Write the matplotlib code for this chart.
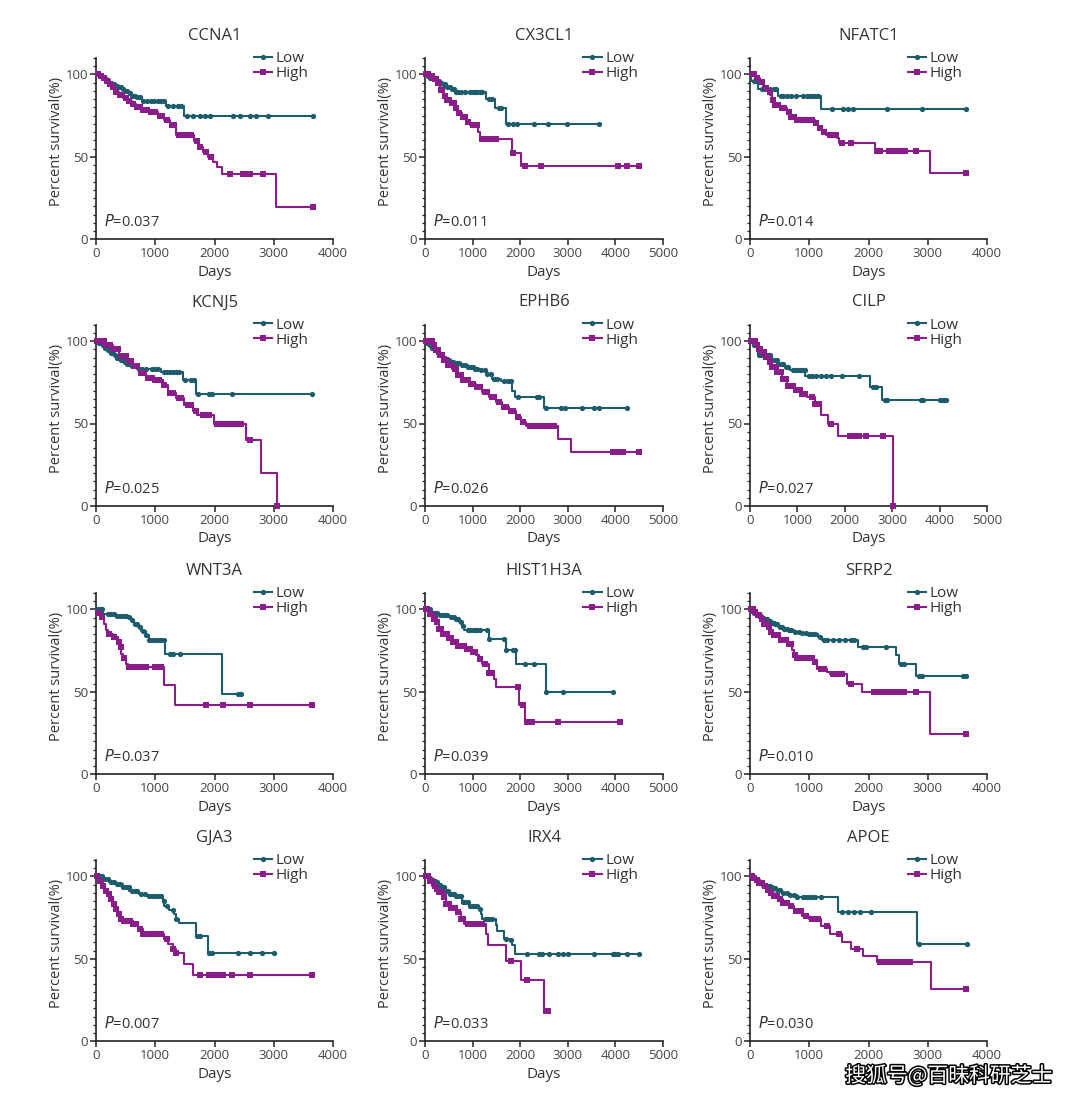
import numpy as np
import matplotlib
matplotlib.use("Agg")
import matplotlib.pyplot as plt
import matplotlib.patheffects as pe
from matplotlib.ticker import MultipleLocator
from matplotlib.lines import Line2D

plt.rcParams['font.family'] = ['Open Sans', 'DejaVu Sans']

genes = ['CCNA1', 'CX3CL1', 'NFATC1', 'KCNJ5', 'EPHB6', 'CILP',
         'WNT3A', 'HIST1H3A', 'SFRP2', 'GJA3', 'IRX4', 'APOE']
p_values = ['0.037', '0.011', '0.014', '0.025', '0.026', '0.027',
            '0.037', '0.039', '0.010', '0.007', '0.033', '0.030']
x_max = [4000, 5000, 4000, 4000, 5000, 5000, 4000, 5000, 4000, 4000, 5000, 4000]

# t = event days, s = survival (%) after event, c = censored days
ccna1_low_t = [60, 120, 170, 220, 270, 320, 380, 430, 480, 540, 600, 680, 780, 1180, 1480]
ccna1_low_s = [99, 98, 96.5, 95, 94, 93, 92, 91, 90, 88.5, 87, 86, 84, 81, 75]
ccna1_low_c = [20, 60, 90, 130, 160, 200, 240, 280, 310, 350, 390, 420, 460, 500, 530, 570, 610, 650, 700, 740,
               800, 860, 920, 980, 1040, 1100, 1150, 1220, 1300, 1380, 1440, 1528, 1640, 1753, 1837, 1921, 2315,
               2427, 2596, 2697, 2904, 3663]
ccna1_high_t = [50, 110, 160, 210, 260, 320, 380, 450, 520, 600, 680, 760, 900, 1050, 1150, 1250, 1350, 1660,
                1720, 1800, 1890, 1980, 2040, 2120, 3045]
ccna1_high_s = [99, 97.5, 96, 94, 92, 89.5, 87.5, 85.5, 84, 82, 80, 78.5, 77, 75, 72.5, 69.5, 63, 59.5, 56, 53,
                50, 47, 44, 39.5, 19.8]
ccna1_high_c = [30, 80, 130, 180, 230, 280, 340, 400, 440, 500, 560, 620, 700, 740, 800, 860, 930, 1000, 1080,
                1120, 1200, 1280, 1320, 1400, 1440, 1500, 1600, 1700, 1760, 1850, 1940, 2258, 2483, 2540, 2596,
                2821, 3663]

cx3cl1_low_t = [40, 100, 170, 240, 310, 380, 460, 540, 620, 1280, 1470, 1700]
cx3cl1_low_s = [99, 98, 97, 96, 95, 94, 92.5, 91, 89.5, 85, 79.4, 70]
cx3cl1_low_c = [20, 60, 100, 140, 180, 220, 260, 300, 340, 380, 420, 470, 520, 560, 600, 650, 700, 760, 850, 950,
                1000, 1050, 1100, 1150, 1200, 1350, 1400, 1550, 1600, 1750, 1853, 1923, 2294, 2587, 2986, 3657]
cx3cl1_high_t = [80, 175, 245, 315, 385, 440, 525, 630, 680, 770, 875, 945, 1120, 1155, 1820, 2015]
cx3cl1_high_s = [99, 97, 94.5, 90.5, 87, 84.4, 82.4, 79.4, 76.4, 74, 71.3, 69.3, 65.3, 61, 52.5, 44.6]
cx3cl1_high_c = [30, 70, 120, 150, 200, 230, 280, 330, 360, 410, 470, 500, 560, 600, 660, 720, 800, 850, 900,
                 1000, 1050, 1100, 1200, 1300, 1380, 1450, 1500, 1850, 2100, 2430, 4050, 4250, 4497]

nfatc1_low_t = [25, 140, 480, 1200]
nfatc1_low_s = [96, 91, 87, 79]
nfatc1_low_c = [10, 60, 100, 200, 260, 330, 400, 440, 520, 560, 620, 700, 780, 900, 960, 1000, 1050, 1100, 1150,
                1376, 1573, 1657, 1742, 2315, 2904, 3652]
nfatc1_high_t = [80, 170, 225, 310, 340, 365, 395, 505, 620, 675, 760, 1095, 1150, 1210, 1290, 1460, 1505, 2105, 3035]
nfatc1_high_s = [97.5, 95.5, 91.5, 89.5, 87.5, 84.4, 81.4, 79.4, 77.4, 74.3, 72.3, 70.3, 67.3, 65.3, 63.2, 61.2,
                 58.2, 53.5, 40]
nfatc1_high_c = [30, 60, 120, 200, 270, 330, 380, 420, 450, 480, 540, 580, 650, 700, 740, 800, 850, 900, 950, 1000,
                 1050, 1120, 1180, 1250, 1350, 1450, 1550, 1700, 2150, 2200, 2350, 2420, 2480, 2550, 2620, 2800, 3652]

kcnj5_low_t = [40, 90, 140, 190, 240, 290, 340, 400, 460, 520, 600, 700, 1095, 1472, 1685]
kcnj5_low_s = [99, 97.5, 96, 94.5, 93, 91.5, 90, 88.5, 87, 86, 85, 83.2, 81, 76.3, 68]
kcnj5_low_c = [20, 50, 80, 110, 150, 180, 210, 250, 280, 320, 350, 380, 420, 450, 490, 530, 560, 600, 640, 680, 720,
               780, 850, 950, 1000, 1050, 1150, 1200, 1250, 1300, 1350, 1400, 1500, 1600, 1650, 1720, 1900, 1950,
               2300, 3650]
kcnj5_high_t = [170, 280, 393, 505, 618, 730, 843, 955, 1124, 1208, 1348, 1489, 1629, 1713, 1994, 2528, 2781, 3062]
kcnj5_high_s = [97.4, 95, 91, 87.8, 84.8, 80.7, 77.7, 76.3, 73.6, 68.6, 65.5, 61.5, 57.4, 55.4, 49.7, 39.8, 20.3, 0]
kcnj5_high_c = [20, 60, 100, 130, 170, 200, 240, 280, 330, 370, 420, 460, 500, 550, 590, 650, 700, 760, 800, 880,
                950, 1000, 1060, 1150, 1250, 1300, 1400, 1440, 1550, 1600, 1680, 1800, 1900, 2050, 2150, 2250, 2350,
                2450, 2600, 3062]

ephb6_low_t = [40, 90, 140, 190, 250, 310, 370, 440, 520, 620, 750, 900, 1050, 1150, 1300, 1415, 1590, 1835, 1891, 2500]
ephb6_low_s = [99, 97.5, 96, 94.5, 93, 91.5, 90, 88.5, 87.2, 86.5, 85.5, 84.2, 83, 82.2, 79.7, 77, 75.7, 70, 66, 59.4]
ephb6_low_c = [20, 50, 80, 110, 140, 170, 200, 240, 270, 300, 340, 370, 410, 450, 500, 540, 580, 620, 680, 720, 780,
               840, 900, 960, 1000, 1050, 1100, 1180, 1250, 1300, 1380, 1450, 1520, 1650, 1750, 1800, 1950, 2350,
               2400, 2550, 2850, 2950, 3300, 3550, 3650, 4250]
ephb6_high_t = [154, 224, 294, 364, 469, 574, 679, 784, 924, 1064, 1205, 1345, 1485, 1625, 1765, 1905, 2010, 2115,
                2801, 3060]
ephb6_high_s = [97.4, 94.3, 91.3, 88.2, 85.2, 83.2, 79.1, 76.1, 74, 72, 69, 66, 62.9, 59.8, 57.8, 54.2, 50.7, 48.7,
                40.6, 32.9]
ephb6_high_c = [30, 70, 100, 150, 190, 230, 280, 320, 360, 400, 440, 480, 520, 560, 620, 660, 700, 750, 800, 850,
                900, 960, 1000, 1100, 1150, 1250, 1300, 1400, 1450, 1550, 1650, 1700, 1800, 1850, 1950, 2050, 2200,
                2300, 2400, 2500, 2600, 2700, 3950, 4000, 4050, 4100, 4150, 4500]

cilp_low_t = [70, 140, 176, 456, 562, 737, 843, 1159, 2528, 2795]
cilp_low_s = [97.4, 94.3, 91.3, 88.2, 86.2, 84.2, 82.2, 78.5, 72, 64]
cilp_low_c = [20, 50, 90, 120, 160, 200, 240, 280, 320, 360, 400, 430, 470, 520, 560, 600, 650, 700, 760, 800, 900,
              950, 1000, 1050, 1100, 1150, 1250, 1300, 1400, 1500, 1600, 1700, 1950, 2300, 2600, 2650, 2850, 2900,
              3600, 3650, 4000, 4050, 4100, 4143]
cilp_high_t = [105, 176, 246, 316, 386, 456, 562, 667, 772, 948, 1088, 1194, 1369, 1496, 1650, 1861, 3019]
cilp_high_s = [97.4, 95.3, 93.3, 90.3, 87.2, 84.2, 81.1, 77.1, 73, 70.4, 68, 65.9, 61.9, 55.4, 49.7, 42.2, 0]
cilp_high_c = [30, 60, 100, 140, 180, 220, 260, 300, 340, 380, 420, 460, 500, 540, 580, 620, 660, 700, 760, 800,
               850, 900, 960, 1000, 1050, 1100, 1150, 1300, 1380, 1450, 1700, 2100, 2150, 2200, 2250, 2300, 2450,
               2800, 3019]

wnt3a_low_t = [112, 309, 506, 590, 646, 702, 758, 843, 899, 1168, 2135]
wnt3a_low_s = [97.4, 96, 95.4, 93.3, 91.3, 89.3, 86.7, 84.3, 81.3, 72.8, 48.4]
wnt3a_low_c = [20, 60, 100, 200, 250, 300, 350, 400, 450, 500, 550, 600, 650, 700, 750, 800, 850, 900, 950, 1000,
               1050, 1100, 1150, 1250, 1300, 1420, 2400, 2444]
wnt3a_high_t = [28, 84, 140, 169, 197, 281, 365, 393, 421, 449, 506, 534, 1152, 1337]
wnt3a_high_s = [98, 95.4, 91.3, 87.3, 85.3, 83.3, 80.2, 77.2, 73.2, 70.2, 67.1, 65.1, 54, 42.3]
wnt3a_high_c = [30, 100, 220, 300, 380, 420, 480, 560, 600, 650, 700, 750, 800, 850, 1000, 1050, 1100, 1850, 2150,
                2600, 3650]

hist1h3a_low_t = [119, 294, 504, 609, 714, 770, 819, 1345, 1695, 1905, 2535]
hist1h3a_low_s = [98, 96.8, 95.4, 94, 92.3, 89.9, 87.3, 82.3, 75.2, 67.1, 50]
hist1h3a_low_c = [20, 60, 100, 150, 200, 250, 320, 380, 420, 470, 550, 600, 650, 700, 750, 800, 900, 950, 1000,
                  1050, 1100, 1150, 1300, 1350, 1650, 1700, 1850, 1900, 2100, 2300, 2550, 2900, 3950]
hist1h3a_high_t = [84, 154, 224, 294, 364, 469, 574, 679, 854, 994, 1064, 1134, 1205, 1345, 1450, 1485, 1975, 2101]
hist1h3a_high_s = [97.4, 94.4, 92.3, 88.3, 85.3, 82.7, 80.2, 77.8, 76.2, 74.2, 72.2, 69.8, 67.1, 61.1, 57.7, 53,
                   42.3, 31.9]
hist1h3a_high_c = [20, 50, 100, 140, 180, 220, 260, 300, 340, 380, 420, 460, 500, 540, 580, 620, 660, 700, 760,
                   820, 880, 940, 1000, 1050, 1150, 1250, 1350, 1400, 1950, 2050, 2150, 2250, 2800, 4100]

sfrp2_low_t = [30, 70, 110, 150, 200, 250, 300, 360, 420, 480, 560, 650, 750, 850, 1000, 1152, 1208, 1826, 2472,
               2517, 2809]
sfrp2_low_s = [99, 98, 97, 96, 95, 94, 93, 92, 91, 89.5, 88, 87.2, 86.5, 85.9, 85, 83, 81.5, 77, 72.2, 67.1, 59.7]
sfrp2_low_c = [10, 40, 70, 100, 130, 160, 190, 220, 250, 280, 310, 340, 370, 400, 430, 460, 500, 540, 580, 620, 660,
               700, 760, 820, 880, 940, 1000, 1050, 1100, 1180, 1250, 1300, 1400, 1500, 1600, 1700, 1750, 1900, 1950,
               2300, 2550, 2600, 2850, 2900, 3600, 3650]
sfrp2_high_t = [56, 112, 169, 225, 281, 337, 393, 506, 618, 702, 747, 787, 1067, 1124, 1292, 1348, 1629, 1882, 3034]
sfrp2_high_s = [98.4, 96.4, 94.4, 91.3, 89.3, 86.3, 84.3, 81.3, 79.2, 75.2, 72.2, 70.2, 68.1, 64.1, 62.1, 60.5, 55,
                49.6, 24.4]
sfrp2_high_c = [20, 50, 90, 130, 160, 200, 240, 280, 320, 360, 400, 440, 480, 520, 560, 600, 650, 700, 760, 800,
                860, 920, 980, 1040, 1100, 1200, 1250, 1400, 1450, 1500, 1550, 1700, 2100, 2150, 2200, 2300, 2400,
                2450, 2500, 2600, 2800, 3650]

gja3_low_t = [112, 225, 337, 449, 562, 730, 843, 1124, 1152, 1236, 1320, 1348, 1404, 1685, 1882]
gja3_low_s = [98.4, 96.8, 95.4, 93.3, 91.3, 89.3, 87.9, 85.3, 82.3, 79.8, 77.2, 74.2, 71.8, 64.1, 53.4]
gja3_low_c = [20, 60, 100, 150, 200, 250, 300, 350, 400, 450, 500, 550, 600, 650, 700, 760, 820, 900, 950, 1000,
              1050, 1100, 1150, 1200, 1300, 1350, 1700, 1750, 1900, 1950, 2400, 2600, 2800, 3000]
gja3_high_t = [56, 112, 140, 197, 225, 281, 326, 348, 382, 421, 618, 702, 787, 1152, 1208, 1292, 1348, 1489, 1629]
gja3_high_s = [97.4, 94.4, 91.3, 89.3, 86.3, 83.3, 80.2, 77.2, 74.2, 73.2, 71.2, 68.1, 65.1, 62.1, 59.1, 56, 53.4,
               47, 39.9]
gja3_high_c = [20, 70, 120, 170, 220, 260, 300, 340, 380, 420, 470, 520, 570, 620, 680, 740, 800, 900, 950, 1000,
               1050, 1100, 1200, 1300, 1350, 1750, 1900, 2000, 2050, 2150, 2300, 2600, 3650]

irx4_low_t = [60, 120, 180, 224, 280, 340, 434, 520, 644, 784, 924, 1134, 1169, 1205, 1485, 1520, 1660, 1765, 1835, 1884]
irx4_low_s = [99, 98, 97, 96.4, 95, 93.5, 91.3, 89.5, 87.9, 84.3, 81.9, 80.2, 77.2, 74.2, 70.2, 67.1, 62.1, 61.1,
              58.1, 53]
irx4_low_c = [20, 50, 80, 110, 150, 180, 210, 250, 280, 320, 360, 400, 440, 480, 520, 560, 600, 650, 700, 750, 800,
              850, 900, 950, 1000, 1050, 1100, 1150, 1250, 1300, 1350, 1400, 1700, 1800, 2150, 2400, 2450, 2600,
              2800, 2900, 3000, 3550, 3950, 4000, 4050, 4250, 4500]
irx4_high_t = [84, 154, 224, 294, 364, 434, 504, 679, 749, 819, 1275, 1331, 1695, 2010, 2500]
irx4_high_s = [97.4, 94.4, 92.3, 90.3, 87.3, 83.3, 80.6, 78.2, 74.2, 71.2, 65.1, 58.5, 48.4, 36.9, 18.1]
irx4_high_c = [30, 70, 110, 150, 200, 250, 300, 350, 400, 450, 500, 550, 600, 640, 700, 760, 800, 900, 1000, 1050,
               1150, 1200, 1800, 2150, 2550, 2580]

apoe_low_t = [50, 100, 160, 220, 300, 380, 460, 540, 640, 800, 1484, 2816]
apoe_low_s = [99, 98, 96.5, 95, 94, 93, 91.5, 90, 88.5, 87.3, 78.2, 58.8]
apoe_low_c = [20, 60, 100, 140, 180, 220, 260, 300, 340, 380, 420, 460, 500, 560, 620, 680, 740, 800, 900, 950, 1000,
              1050, 1100, 1200, 1550, 1650, 1750, 1850, 2050, 2850, 3660]
apoe_high_t = [40, 90, 150, 210, 270, 330, 400, 480, 560, 650, 750, 870, 1000, 1200, 1350, 1550, 1700, 1900, 2150, 3050]
apoe_high_s = [99, 97.5, 96, 94, 92, 90, 88, 86, 84, 82, 79, 76, 74, 70, 65, 60, 56, 52, 48, 32]
apoe_high_c = [30, 70, 110, 160, 200, 250, 300, 350, 400, 450, 500, 560, 620, 700, 780, 860, 950, 1050, 1150, 1300,
               1500, 1800, 2200, 2300, 2400, 2500, 2600, 2700, 3650]

curves = {
    'CCNA1': ((ccna1_low_t, ccna1_low_s, ccna1_low_c), (ccna1_high_t, ccna1_high_s, ccna1_high_c)),
    'CX3CL1': ((cx3cl1_low_t, cx3cl1_low_s, cx3cl1_low_c), (cx3cl1_high_t, cx3cl1_high_s, cx3cl1_high_c)),
    'NFATC1': ((nfatc1_low_t, nfatc1_low_s, nfatc1_low_c), (nfatc1_high_t, nfatc1_high_s, nfatc1_high_c)),
    'KCNJ5': ((kcnj5_low_t, kcnj5_low_s, kcnj5_low_c), (kcnj5_high_t, kcnj5_high_s, kcnj5_high_c)),
    'EPHB6': ((ephb6_low_t, ephb6_low_s, ephb6_low_c), (ephb6_high_t, ephb6_high_s, ephb6_high_c)),
    'CILP': ((cilp_low_t, cilp_low_s, cilp_low_c), (cilp_high_t, cilp_high_s, cilp_high_c)),
    'WNT3A': ((wnt3a_low_t, wnt3a_low_s, wnt3a_low_c), (wnt3a_high_t, wnt3a_high_s, wnt3a_high_c)),
    'HIST1H3A': ((hist1h3a_low_t, hist1h3a_low_s, hist1h3a_low_c),
                 (hist1h3a_high_t, hist1h3a_high_s, hist1h3a_high_c)),
    'SFRP2': ((sfrp2_low_t, sfrp2_low_s, sfrp2_low_c), (sfrp2_high_t, sfrp2_high_s, sfrp2_high_c)),
    'GJA3': ((gja3_low_t, gja3_low_s, gja3_low_c), (gja3_high_t, gja3_high_s, gja3_high_c)),
    'IRX4': ((irx4_low_t, irx4_low_s, irx4_low_c), (irx4_high_t, irx4_high_s, irx4_high_c)),
    'APOE': ((apoe_low_t, apoe_low_s, apoe_low_c), (apoe_high_t, apoe_high_s, apoe_high_c)),
}

low_color = '#1d5c6b'
high_color = '#8b1d8b'
text_color = '#333333'

W, H = 1080, 1098
fig = plt.figure(figsize=(W / 100, H / 100), dpi=100)

col_left = [96, 425, 750]
col_width = [237, 238, 237]
row_zero = [239.3, 506, 774.3, 1041.3]
ax_h = 181.5


def draw_km(ax, t, s, c, color, marker, ms):
    t = list(t)
    s = list(s)
    end = max(max(c), max(t))
    xs = [0] + t + [end]
    ys = [100] + s + [s[-1]]
    ax.step(xs, ys, where='post', color=color, lw=1.5, clip_on=False, zorder=3)
    tt = np.array([0] + t)
    ss = np.array([100] + s)
    idx = np.searchsorted(tt, np.array(c), side='right') - 1
    ax.plot(c, ss[idx], ls='none', marker=marker, ms=ms, color=color,
            markeredgewidth=0, clip_on=False, zorder=4)


for i, gene in enumerate(genes):
    r, k = divmod(i, 3)
    left = col_left[k] / W
    bottom = (H - row_zero[r]) / H
    ax = fig.add_axes([left, bottom, col_width[k] / W, ax_h / H])

    low, high = curves[gene]
    draw_km(ax, *low, low_color, 'o', 3.8)
    draw_km(ax, *high, high_color, 's', 4.0)

    ax.set_xlim(0, x_max[i])
    ax.set_ylim(0, 110)
    ax.spines['top'].set_visible(False)
    ax.spines['right'].set_visible(False)
    for sp in ('left', 'bottom'):
        ax.spines[sp].set_linewidth(1.2)
        ax.spines[sp].set_color('#222222')
    ax.set_xticks(np.arange(0, x_max[i] + 1, 1000))
    ax.set_yticks([0, 50, 100])
    ax.yaxis.set_minor_locator(MultipleLocator(5))
    ax.tick_params(axis='both', which='major', direction='out', length=4, width=1.1,
                   labelsize=9.5, labelcolor='#444444', pad=1.5, color='#222222')
    ax.tick_params(axis='y', which='minor', direction='out', length=2.5, width=0.9, color='#222222')

    ax.set_title(gene, fontsize=12, color=text_color, pad=13)
    ax.set_xlabel('Days', fontsize=11, color=text_color)
    ax.xaxis.set_label_coords(0.5, -0.14)
    ax.set_ylabel('Percent survival(%)', fontsize=10.5, color=text_color)
    ax.yaxis.set_label_coords(-0.135, 0.54)

    ax.text(0.034, 0.095, r'$\it{P}$=' + p_values[i], transform=ax.transAxes,
            fontsize=10.5, color=text_color, va='center', ha='left')

    handles = [Line2D([], [], color=low_color, lw=1.5, marker='o', ms=3.8, markeredgewidth=0),
               Line2D([], [], color=high_color, lw=1.5, marker='s', ms=4.0, markeredgewidth=0)]
    ax.legend(handles, ['Low', 'High'], loc='upper left', bbox_to_anchor=(0.665, 1.037),
              frameon=False, fontsize=11, handlelength=1.2, handletextpad=0.25,
              labelspacing=0.0, borderpad=0, borderaxespad=0, numpoints=1,
              labelcolor=text_color)

fig.text(949 / W, 1 - 1076 / H, '搜狐号@百昧科研芝士', fontsize=15, color='white',
         family=['Noto Sans CJK SC', 'DejaVu Sans'], ha='center', va='center',
         path_effects=[pe.withStroke(linewidth=2.2, foreground='black')])

fig.savefig('out.png', dpi=100)
